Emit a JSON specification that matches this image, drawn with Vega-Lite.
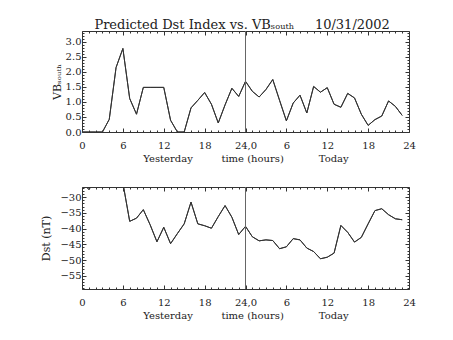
{
  "$schema": "https://vega.github.io/schema/vega-lite/v6.json",
  "background": "white",
  "padding": {"left": 40, "top": 18, "right": 5, "bottom": 5},
  "title": {"text": "Predicted Dst Index vs. VBₛₒᵤₜₕ\u00a0\u00a0\u00a0\u00a0\u00a010/31/2002", "font": "DejaVu Serif", "fontSize": 13, "fontWeight": "normal", "color": "#222", "offset": -4, "dx": 14, "anchor": "middle"},
  "config": {
    "view": {"stroke": null},
    "axis": {"labelFont": "DejaVu Serif", "titleFont": "DejaVu Serif", "labelFontSize": 10, "titleFontSize": 10, "titleFontWeight": "normal", "labelColor": "#222", "titleColor": "#222", "domainColor": "#333", "tickColor": "#333", "grid": false, "labelOverlap": false, "labelBound": false, "labelFlush": false}
  },
  "datasets": {
    "vb": [
      {"h": 0, "vb": 0}, {"h": 1, "vb": 0}, {"h": 2, "vb": 0}, {"h": 3, "vb": 0},
      {"h": 4, "vb": 0.42}, {"h": 5, "vb": 2.14}, {"h": 6, "vb": 2.77}, {"h": 7, "vb": 1.11},
      {"h": 8, "vb": 0.59}, {"h": 9, "vb": 1.48}, {"h": 10, "vb": 1.48}, {"h": 11, "vb": 1.48},
      {"h": 12, "vb": 1.48}, {"h": 13, "vb": 0.39}, {"h": 14, "vb": 0}, {"h": 15, "vb": 0},
      {"h": 16, "vb": 0.8}, {"h": 17, "vb": 1.05}, {"h": 18, "vb": 1.31}, {"h": 19, "vb": 0.92},
      {"h": 20, "vb": 0.3}, {"h": 21, "vb": 0.9}, {"h": 22, "vb": 1.45}, {"h": 23, "vb": 1.18},
      {"h": 24, "vb": 1.68}, {"h": 25, "vb": 1.35}, {"h": 26, "vb": 1.16}, {"h": 27, "vb": 1.41},
      {"h": 28, "vb": 1.74}, {"h": 29, "vb": 1.05}, {"h": 30, "vb": 0.37}, {"h": 31, "vb": 0.96},
      {"h": 32, "vb": 1.22}, {"h": 33, "vb": 0.63}, {"h": 34, "vb": 1.51}, {"h": 35, "vb": 1.32},
      {"h": 36, "vb": 1.47}, {"h": 37, "vb": 0.92}, {"h": 38, "vb": 0.82}, {"h": 39, "vb": 1.28},
      {"h": 40, "vb": 1.13}, {"h": 41, "vb": 0.59}, {"h": 42, "vb": 0.22}, {"h": 43, "vb": 0.41},
      {"h": 44, "vb": 0.53}, {"h": 45, "vb": 1.03}, {"h": 46, "vb": 0.85}, {"h": 47, "vb": 0.55}
    ],
    "dst": [
      {"h": 0, "dst": -25}, {"h": 1, "dst": -27.6}, {"h": 2, "dst": -25}, {"h": 3, "dst": -22},
      {"h": 4, "dst": -20}, {"h": 5, "dst": -22}, {"h": 6, "dst": -25.5}, {"h": 7, "dst": -37.7},
      {"h": 8, "dst": -36.7}, {"h": 9, "dst": -34.0}, {"h": 10, "dst": -38.8}, {"h": 11, "dst": -44.2},
      {"h": 12, "dst": -39.6}, {"h": 13, "dst": -44.8}, {"h": 14, "dst": -41.6}, {"h": 15, "dst": -38.5},
      {"h": 16, "dst": -31.6}, {"h": 17, "dst": -38.5}, {"h": 18, "dst": -39.1}, {"h": 19, "dst": -39.9},
      {"h": 20, "dst": -36.2}, {"h": 21, "dst": -32.7}, {"h": 22, "dst": -36.4}, {"h": 23, "dst": -41.9},
      {"h": 24, "dst": -39.3}, {"h": 25, "dst": -42.6}, {"h": 26, "dst": -43.9}, {"h": 27, "dst": -43.6},
      {"h": 28, "dst": -43.8}, {"h": 29, "dst": -46.4}, {"h": 30, "dst": -45.8}, {"h": 31, "dst": -43.2},
      {"h": 32, "dst": -43.6}, {"h": 33, "dst": -46.2}, {"h": 34, "dst": -47.3}, {"h": 35, "dst": -49.6},
      {"h": 36, "dst": -49.1}, {"h": 37, "dst": -47.8}, {"h": 38, "dst": -39.0}, {"h": 39, "dst": -41.2},
      {"h": 40, "dst": -44.3}, {"h": 41, "dst": -42.8}, {"h": 42, "dst": -38.5}, {"h": 43, "dst": -34.3},
      {"h": 44, "dst": -33.7}, {"h": 45, "dst": -35.6}, {"h": 46, "dst": -36.9}, {"h": 47, "dst": -37.2}
    ]
  },
  "spacing": 19,
  "vconcat": [
    {
      "width": 327,
      "height": 101,
      "data": {"name": "vb"},
      "layer": [
        {
          "mark": {"type": "line", "color": "#333", "strokeWidth": 1, "clip": true},
          "encoding": {
            "x": {"field": "h", "type": "quantitative", "scale": {"domain": [0, 48], "nice": false, "zero": false},
              "axis": {"orient": "bottom", "values": [0,1,2,3,4,5,6,7,8,9,10,11,12,13,14,15,16,17,18,19,20,21,22,23,24,25,26,27,28,29,30,31,32,33,34,35,36,37,38,39,40,41,42,43,44,45,46,47,48],
                "tickSize": {"condition": {"test": "datum.value % 6 === 0", "value": -4}, "value": -2},
                "labelExpr": "datum.value % 6 === 0 ? (datum.value === 24 ? '24,0' : (datum.value > 24 ? toString(datum.value - 24) : toString(datum.value))) : ''",
                "labelPadding": 12, "titlePadding": 1,
                "title": "Yesterday\u00a0\u00a0\u00a0\u00a0\u00a0\u00a0\u00a0\u00a0\u00a0time (hours)\u00a0\u00a0\u00a0\u00a0\u00a0\u00a0\u00a0\u00a0\u00a0\u00a0\u00a0Today"}},
            "y": {"field": "vb", "type": "quantitative", "scale": {"domain": [0, 3.35], "nice": false, "zero": false},
              "axis": {"orient": "left", "values": [0,0.1,0.2,0.3,0.4,0.5,0.6,0.7,0.8,0.9,1,1.1,1.2,1.3,1.4,1.5,1.6,1.7,1.8,1.9,2,2.1,2.2,2.3,2.4,2.5,2.6,2.7,2.8,2.9,3,3.1,3.2,3.3],
                "tickSize": {"condition": {"test": "abs(datum.value*2 - round(datum.value*2)) < 0.01", "value": -4}, "value": -2},
                "labelExpr": "abs(datum.value*2 - round(datum.value*2)) < 0.01 ? format(datum.value, '.1f') : ''",
                "labelPadding": 5, "titlePadding": 3, "titleFontSize": 11,
                "title": "VBₛₒᵤₜₕ"}}
          }
        },
        {
          "mark": {"type": "line", "color": "#333", "strokeWidth": 1, "clip": true},
          "encoding": {
            "x": {"field": "h", "type": "quantitative",
              "axis": {"orient": "top", "values": [0,1,2,3,4,5,6,7,8,9,10,11,12,13,14,15,16,17,18,19,20,21,22,23,24,25,26,27,28,29,30,31,32,33,34,35,36,37,38,39,40,41,42,43,44,45,46,47,48],
                "tickSize": {"condition": {"test": "datum.value % 6 === 0", "value": -4}, "value": -2},
                "labels": false, "title": null}},
            "y": {"field": "vb", "type": "quantitative",
              "axis": {"orient": "right", "values": [0,0.1,0.2,0.3,0.4,0.5,0.6,0.7,0.8,0.9,1,1.1,1.2,1.3,1.4,1.5,1.6,1.7,1.8,1.9,2,2.1,2.2,2.3,2.4,2.5,2.6,2.7,2.8,2.9,3,3.1,3.2,3.3],
                "tickSize": {"condition": {"test": "abs(datum.value*2 - round(datum.value*2)) < 0.01", "value": -4}, "value": -2},
                "labels": false, "title": null}}
          }
        },
        {
          "mark": {"type": "rule", "color": "#666", "strokeWidth": 1},
          "encoding": {"x": {"datum": 24, "type": "quantitative", "axis": null}}
        }
      ],
      "resolve": {"axis": {"x": "independent", "y": "independent"}}
    },
    {
      "width": 327,
      "height": 102,
      "data": {"name": "dst"},
      "layer": [
        {
          "mark": {"type": "line", "color": "#333", "strokeWidth": 1, "clip": true},
          "encoding": {
            "x": {"field": "h", "type": "quantitative", "scale": {"domain": [0, 48], "nice": false, "zero": false},
              "axis": {"orient": "bottom", "values": [0,1,2,3,4,5,6,7,8,9,10,11,12,13,14,15,16,17,18,19,20,21,22,23,24,25,26,27,28,29,30,31,32,33,34,35,36,37,38,39,40,41,42,43,44,45,46,47,48],
                "tickSize": {"condition": {"test": "datum.value % 6 === 0", "value": -4}, "value": -2},
                "labelExpr": "datum.value % 6 === 0 ? (datum.value === 24 ? '24,0' : (datum.value > 24 ? toString(datum.value - 24) : toString(datum.value))) : ''",
                "labelPadding": 12, "titlePadding": 1,
                "title": "Yesterday\u00a0\u00a0\u00a0\u00a0\u00a0\u00a0\u00a0\u00a0\u00a0time (hours)\u00a0\u00a0\u00a0\u00a0\u00a0\u00a0\u00a0\u00a0\u00a0\u00a0\u00a0Today"}},
            "y": {"field": "dst", "type": "quantitative", "scale": {"domain": [-59.2, -26.8], "nice": false, "zero": false},
              "axis": {"orient": "left", "values": [-59,-58,-57,-56,-55,-54,-53,-52,-51,-50,-49,-48,-47,-46,-45,-44,-43,-42,-41,-40,-39,-38,-37,-36,-35,-34,-33,-32,-31,-30,-29,-28,-27],
                "tickSize": {"condition": {"test": "datum.value % 5 === 0", "value": -4}, "value": -2},
                "labelExpr": "datum.value % 5 === 0 ? format(datum.value, 'd') : ''",
                "labelPadding": 5, "titlePadding": 8, "titleFontSize": 11,
                "title": "Dst (nT)"}}
          }
        },
        {
          "mark": {"type": "line", "color": "#333", "strokeWidth": 1, "clip": true},
          "encoding": {
            "x": {"field": "h", "type": "quantitative",
              "axis": {"orient": "top", "values": [0,1,2,3,4,5,6,7,8,9,10,11,12,13,14,15,16,17,18,19,20,21,22,23,24,25,26,27,28,29,30,31,32,33,34,35,36,37,38,39,40,41,42,43,44,45,46,47,48],
                "tickSize": {"condition": {"test": "datum.value % 6 === 0", "value": -4}, "value": -2},
                "labels": false, "title": null}},
            "y": {"field": "dst", "type": "quantitative",
              "axis": {"orient": "right", "values": [-59,-58,-57,-56,-55,-54,-53,-52,-51,-50,-49,-48,-47,-46,-45,-44,-43,-42,-41,-40,-39,-38,-37,-36,-35,-34,-33,-32,-31,-30,-29,-28,-27],
                "tickSize": {"condition": {"test": "datum.value % 5 === 0", "value": -4}, "value": -2},
                "labels": false, "title": null}}
          }
        },
        {
          "mark": {"type": "rule", "color": "#666", "strokeWidth": 1},
          "encoding": {"x": {"datum": 24, "type": "quantitative", "axis": null}}
        }
      ],
      "resolve": {"axis": {"x": "independent", "y": "independent"}}
    }
  ]
}
